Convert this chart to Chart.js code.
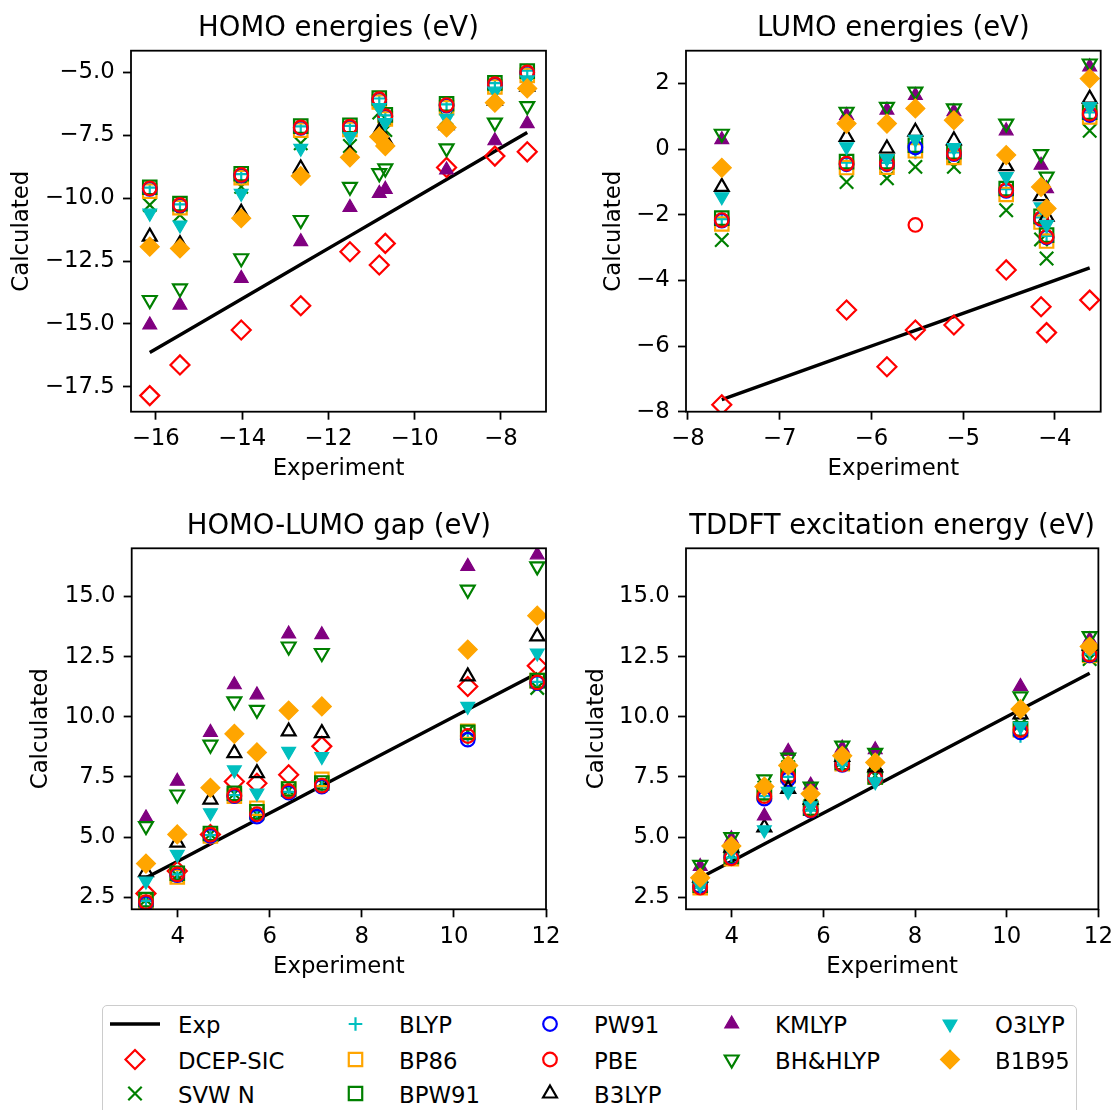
<!DOCTYPE html>
<html>
<head>
<meta charset="utf-8">
<script src="https://cdn.jsdelivr.net/npm/chart.js@4.4.1/dist/chart.umd.min.js"></script>
<style>
  body { margin: 0; width: 1119px; height: 1110px; overflow: hidden; background: #fff; position: relative; font-family: "DejaVu Sans", sans-serif; }
  canvas { position: absolute; }
  #legend { position: absolute; left: 102px; top: 1005px; width: 975px; height: 140px; border: 1.8px solid #cccccc; border-radius: 5px; box-sizing: border-box; background: #fff; }
  .lt { position: absolute; font-size: 22.8px; line-height: 28px; white-space: nowrap; color: #000; }
</style>
</head>
<body>
<canvas id="homo" width="575" height="500" style="left:0px;top:0px"></canvas>
<canvas id="lumo" width="544" height="500" style="left:575px;top:0px"></canvas>
<canvas id="gap" width="575" height="500" style="left:0px;top:498px"></canvas>
<canvas id="tddft" width="544" height="500" style="left:575px;top:498px"></canvas>
<div id="legend"></div>
<canvas id="legendMarks" width="1119" height="110" style="left:0px;top:1000px"></canvas>
<script>
// method names, in legend order
const methods = ['DCEP-SIC', 'SVW N', 'BLYP', 'BP86', 'BPW91', 'PW91', 'PBE', 'B3LYP', 'KMLYP', 'BH&HLYP', 'O3LYP', 'B1B95'];

// HOMO energies (eV)
const homoExp    = [-16.14, -15.44, -14.02, -12.64, -11.50, -10.82, -10.68, -9.26, -8.14, -7.39];
const homoDCEP   = [-17.85, -16.63, -15.24, -14.28, -12.13, -12.66, -11.80, -8.78, -8.33, -8.16];
const homoSVWN   = [-10.27, -10.67, -9.55, -7.82, -7.93, -6.60, -7.29, -6.83, -5.90, -5.44];
const homoBLYP   = [-9.58, -10.25, -9.05, -7.15, -7.13, -6.04, -6.71, -6.27, -5.43, -4.93];
const homoBP86   = [-9.72, -10.38, -9.19, -7.30, -7.27, -6.18, -6.85, -6.41, -5.58, -5.12];
const homoBPW91  = [-9.57, -10.22, -9.03, -7.14, -7.11, -6.02, -6.69, -6.25, -5.42, -4.95];
const homoPW91   = [-9.63, -10.29, -9.10, -7.21, -7.18, -6.09, -6.76, -6.32, -5.49, -5.02];
const homoPBE    = [-9.61, -10.27, -9.08, -7.19, -7.16, -6.07, -6.74, -6.30, -5.47, -5.00];
const homoB3LYP  = [-11.53, -11.83, -10.58, -8.82, -8.22, -7.36, -7.69, -7.10, -6.13, -5.57];
const homoKMLYP  = [-15.04, -14.25, -13.19, -11.73, -10.37, -9.81, -9.65, -8.88, -7.72, -7.04];
const homoBHHLYP = [-14.05, -13.59, -12.39, -10.87, -9.55, -9.01, -8.82, -8.02, -7.00, -6.34];
const homoO3LYP  = [-10.60, -11.07, -9.81, -8.02, -7.55, -6.40, -7.00, -6.83, -5.75, -5.30];
const homoB1B95  = [-11.93, -12.00, -10.80, -9.12, -8.38, -7.56, -7.93, -7.19, -6.21, -5.64];

// LUMO energies (eV)
const lumoExp    = [-7.63, -6.27, -5.83, -5.52, -5.10, -4.53, -4.15, -4.09, -3.62];
const lumoDCEP   = [-7.79, -4.90, -6.63, -5.51, -5.36, -3.68, -4.80, -5.59, -4.60];
const lumoSVWN   = [-2.77, -1.00, -0.89, -0.54, -0.54, -1.86, -2.75, -3.33, 0.56];
const lumoBLYP   = [-2.13, -0.41, -0.42, -0.10, -0.10, -1.22, -2.08, -2.64, 1.12];
const lumoBP86   = [-2.28, -0.56, -0.55, -0.05, -0.25, -1.38, -2.22, -2.80, 0.98];
const lumoBPW91  = [-2.10, -0.38, -0.38, 0.12, -0.08, -1.20, -2.05, -2.62, 1.13];
const lumoPW91   = [-2.18, -0.46, -0.46, 0.05, -0.15, -1.27, -2.13, -2.69, 1.04];
const lumoPBE    = [-2.16, -0.44, -0.44, -2.31, -0.13, -1.25, -2.11, -2.67, 1.08];
const lumoB3LYP  = [-1.15, 0.37, 0.02, 0.53, 0.27, -0.52, -1.43, -2.06, 1.54];
const lumoKMLYP  = [0.29, 1.03, 1.19, 1.64, 1.14, 0.56, -0.49, -1.20, 2.51];
const lumoBHHLYP = [0.47, 1.14, 1.29, 1.75, 1.24, 0.78, -0.15, -0.84, 2.61];
const lumoO3LYP  = [-1.45, 0.07, -0.29, 0.30, 0.05, -0.84, -1.76, -2.30, 1.30];
const lumoB1B95  = [-0.57, 0.78, 0.78, 1.24, 0.88, -0.18, -1.15, -1.81, 2.15];

// HOMO-LUMO gap (eV)
const gapExp    = [3.31, 3.99, 4.71, 5.23, 5.72, 6.41, 7.13, 10.30, 11.81];
const gapDCEP   = [2.66, 3.59, 5.11, 7.31, 7.24, 7.59, 8.77, 11.26, 12.12];
const gapSVWN   = [2.40, 3.40, 5.12, 6.80, 5.95, 6.95, 7.25, 9.40, 11.20];
const gapBLYP   = [2.35, 3.45, 5.08, 6.75, 5.92, 6.88, 7.10, 9.10, 11.45];
const gapBP86   = [2.28, 3.35, 5.05, 6.70, 6.20, 7.00, 7.40, 9.40, 11.50];
const gapBPW91  = [2.40, 3.50, 5.15, 6.82, 6.05, 7.00, 7.25, 9.35, 11.50];
const gapPW91   = [2.25, 3.42, 5.05, 6.70, 5.85, 6.85, 7.10, 9.05, 11.40];
const gapPBE    = [2.30, 3.45, 5.10, 6.73, 5.95, 6.90, 7.14, 9.20, 11.43];
const gapB3LYP  = [3.54, 4.77, 6.56, 8.49, 7.66, 9.39, 9.32, 11.68, 13.34];
const gapKMLYP  = [5.80, 7.32, 9.35, 11.33, 10.91, 13.44, 13.41, 16.25, 16.73];
const gapBHHLYP = [5.46, 6.77, 8.84, 10.64, 10.29, 12.92, 12.65, 15.28, 16.25];
const gapO3LYP  = [3.17, 4.28, 6.01, 7.79, 6.83, 8.56, 8.35, 10.43, 12.65];
const gapB1B95  = [3.90, 5.11, 7.05, 9.29, 8.52, 10.26, 10.43, 12.79, 14.20];

// TDDFT excitation energy (eV), no DCEP-SIC values
const tdExp    = [3.31, 3.99, 4.71, 5.23, 5.72, 6.41, 7.13, 10.30, 11.81];
const tdSVWN   = [3.10, 4.30, 7.05, 7.90, 6.30, 8.15, 7.55, 9.69, 12.40];
const tdBLYP   = [2.90, 4.15, 6.70, 7.50, 6.10, 8.00, 7.40, 9.20, 12.60];
const tdBP86   = [2.90, 4.10, 6.80, 7.55, 6.20, 8.05, 7.50, 9.45, 12.55];
const tdBPW91  = [3.00, 4.20, 6.85, 7.60, 6.20, 8.10, 7.50, 9.50, 12.60];
const tdPW91   = [2.95, 4.15, 6.60, 7.40, 6.10, 8.00, 7.45, 9.35, 12.55];
const tdPBE    = [2.90, 4.12, 6.70, 7.52, 6.12, 8.02, 7.45, 9.45, 12.58];
const tdB3LYP  = [3.31, 4.56, 5.40, 7.00, 6.56, 8.33, 7.90, 10.10, 12.95];
const tdKMLYP  = [3.78, 4.93, 5.88, 8.56, 7.16, 8.70, 8.63, 11.26, 13.20];
const tdBHHLYP = [3.85, 5.00, 7.40, 8.30, 7.10, 8.80, 8.50, 10.85, 13.35];
const tdO3LYP  = [3.00, 4.40, 5.30, 6.90, 6.30, 8.10, 7.30, 9.60, 12.80];
const tdB1B95  = [3.31, 4.63, 7.10, 7.98, 6.80, 8.38, 8.10, 10.32, 12.92];

// tick labels
const homoXTicks = [-16, -14, -12, -10, -8];
const homoYTicks = [-17.5, -15, -12.5, -10, -7.5, -5];
const lumoXTicks = [-8, -7, -6, -5, -4];
const lumoYTicks = [-8, -6, -4, -2, 0, 2];
const lowXTicks = [4, 6, 8, 10, 12];
const lowYTicks = [2.5, 5, 7.5, 10, 12.5, 15];

// legend columns (filled top to bottom, like matplotlib ncol=5)
const legendColumns = [
    ['Exp', 'DCEP-SIC', 'SVW N'],
    ['BLYP', 'BP86', 'BPW91'],
    ['PW91', 'PBE', 'B3LYP'],
    ['KMLYP', 'BH&HLYP'],
    ['O3LYP', 'B1B95']
];

// marker look for each method (matplotlib-ish)
const markStyle = {
    'DCEP-SIC': { pointStyle: 'rectRot', color: '#ff0000', filled: false, r: 9.5, rot: 0 },
    'SVW N':    { pointStyle: 'crossRot', color: '#008000', filled: false, r: 9.5, rot: 0 },
    'BLYP':     { pointStyle: 'cross', color: '#00bfbf', filled: false, r: 6.8, rot: 0 },
    'BP86':     { pointStyle: 'rect', color: '#ffa500', filled: false, r: 9.5, rot: 0 },
    'BPW91':    { pointStyle: 'rect', color: '#008000', filled: false, r: 9.5, rot: 0 },
    'PW91':     { pointStyle: 'circle', color: '#0000ff', filled: false, r: 6.8, rot: 0 },
    'PBE':      { pointStyle: 'circle', color: '#ff0000', filled: false, r: 6.8, rot: 0 },
    'B3LYP':    { pointStyle: 'triangle', color: '#000000', filled: false, r: 8, rot: 0 },
    'KMLYP':    { pointStyle: 'triangle', color: '#800080', filled: true, r: 8, rot: 0 },
    'BH&HLYP':  { pointStyle: 'triangle', color: '#008000', filled: false, r: 8, rot: 180 },
    'O3LYP':    { pointStyle: 'triangle', color: '#00bfbf', filled: true, r: 8, rot: 180 },
    'B1B95':    { pointStyle: 'rectRot', color: '#ffa500', filled: true, r: 9.5, rot: 0 }
};

const tickSize = 22.8;
const labelSize = 22.8;
const titleSize = 27.5;

Chart.defaults.font.family = '"DejaVu Sans", sans-serif';
Chart.defaults.color = '#000';

const framePlugin = {
    id: 'frame',
    afterDatasetsDraw(chart) {
        const a = chart.chartArea;
        const c = chart.ctx;
        c.save();
        c.strokeStyle = '#000';
        c.lineWidth = 1.8;
        c.strokeRect(a.left, a.top, a.right - a.left, a.bottom - a.top);
        c.restore();
    }
};

function minusFmt(v, d) {
    return (v < 0 ? '\u2212' : '') + Math.abs(v).toFixed(d);
}

function buildDatasets(xs, calc) {
    const sets = [{
        label: 'Exp',
        data: xs.map(v => ({ x: v, y: v })),
        showLine: true,
        borderColor: '#000',
        borderWidth: 3.4,
        pointRadius: 0,
        order: 100
    }];
    methods.forEach((m, i) => {
        if (!calc[m]) return;
        const s = markStyle[m];
        sets.push({
            label: m,
            data: xs.map((v, k) => ({ x: v, y: calc[m][k] })),
            pointStyle: s.pointStyle,
            rotation: s.rot,
            pointRadius: s.r,
            pointHoverRadius: s.r,
            borderColor: s.color,
            backgroundColor: s.filled ? s.color : 'rgba(0,0,0,0)',
            borderWidth: s.filled ? 1.2 : 2.2,
            showLine: false,
            clip: 0,
            order: 99 - i
        });
    });
    return sets;
}

function makePanel(id, title, xs, calc, geo) {
    const cv = document.getElementById(id);
    const cw = cv.width, ch = cv.height;
    const yAxisW = geo.L - geo.cl;
    const xAxisH = geo.ct + ch - geo.B;
    const padRight = geo.cl + cw - geo.R;
    const titleBlock = geo.T - geo.ct;
    const titleLh = titleSize * 1.2;
    const labelHalf = labelSize * 0.6;
    const tickHalf = tickSize * 0.6;
    return new Chart(cv, {
        type: 'scatter',
        data: { datasets: buildDatasets(xs, calc) },
        options: {
            responsive: false,
            animation: false,
            layout: { padding: { left: 0, top: 0, bottom: 0, right: padRight } },
            plugins: {
                legend: { display: false },
                tooltip: { enabled: false },
                title: {
                    display: true,
                    text: title,
                    fullSize: false,
                    color: '#000',
                    font: { size: titleSize, weight: 'normal' },
                    padding: { top: 12.5, bottom: titleBlock - 12.5 - titleLh }
                }
            },
            scales: {
                x: {
                    type: 'linear',
                    min: geo.xmin,
                    max: geo.xmax,
                    border: { display: false },
                    grid: { drawOnChartArea: false, drawTicks: true, tickLength: 8, tickWidth: 1.8, tickColor: '#000' },
                    afterBuildTicks: ax => { ax.ticks = geo.xTicks.map(v => ({ value: v })); },
                    afterFit: ax => { ax.height = xAxisH; },
                    ticks: {
                        color: '#000', font: { size: tickSize }, padding: 27.8 - 8 - tickHalf, maxRotation: 0, autoSkip: false,
                        callback: v => minusFmt(v, 0)
                    },
                    title: {
                        display: true, text: 'Experiment', color: '#000', font: { size: labelSize },
                        padding: { top: 0, bottom: geo.ct + ch - geo.xTitleY - labelHalf }
                    }
                },
                y: {
                    type: 'linear',
                    min: geo.ymin,
                    max: geo.ymax,
                    border: { display: false },
                    grid: { drawOnChartArea: false, drawTicks: true, tickLength: 8, tickWidth: 1.8, tickColor: '#000' },
                    afterBuildTicks: ax => { ax.ticks = geo.yTicks.map(v => ({ value: v })); },
                    afterFit: ax => { ax.width = yAxisW; },
                    ticks: {
                        color: '#000', font: { size: tickSize }, padding: 8.3, autoSkip: false,
                        callback: v => minusFmt(v, geo.yDec)
                    },
                    title: {
                        display: true, text: 'Calculated', color: '#000', font: { size: labelSize },
                        padding: { top: geo.yTitleX - geo.cl - labelHalf, bottom: 0 }
                    }
                }
            }
        },
        plugins: [framePlugin]
    });
}

makePanel('homo', 'HOMO energies (eV)', homoExp, {
    'DCEP-SIC': homoDCEP, 'SVW N': homoSVWN, 'BLYP': homoBLYP, 'BP86': homoBP86, 'BPW91': homoBPW91,
    'PW91': homoPW91, 'PBE': homoPBE, 'B3LYP': homoB3LYP, 'KMLYP': homoKMLYP, 'BH&HLYP': homoBHHLYP,
    'O3LYP': homoO3LYP, 'B1B95': homoB1B95
}, { cl: 0, ct: 0, L: 131, T: 50.7, R: 546, B: 411.7, xTitleY: 469.5, yTitleX: 22,
     xmin: -16.575, xmax: -6.955, ymin: -18.49, ymax: -4.14, xTicks: homoXTicks, yTicks: homoYTicks, yDec: 1 });

makePanel('lumo', 'LUMO energies (eV)', lumoExp, {
    'DCEP-SIC': lumoDCEP, 'SVW N': lumoSVWN, 'BLYP': lumoBLYP, 'BP86': lumoBP86, 'BPW91': lumoBPW91,
    'PW91': lumoPW91, 'PBE': lumoPBE, 'B3LYP': lumoB3LYP, 'KMLYP': lumoKMLYP, 'BH&HLYP': lumoBHHLYP,
    'O3LYP': lumoO3LYP, 'B1B95': lumoB1B95
}, { cl: 575, ct: 0, L: 686, T: 50.7, R: 1100.7, B: 411.7, xTitleY: 469.5, yTitleX: 614,
     xmin: -8.02, xmax: -3.5, ymin: -8, ymax: 3, xTicks: lumoXTicks, yTicks: lumoYTicks, yDec: 0 });

makePanel('gap', 'HOMO-LUMO gap (eV)', gapExp, {
    'DCEP-SIC': gapDCEP, 'SVW N': gapSVWN, 'BLYP': gapBLYP, 'BP86': gapBP86, 'BPW91': gapBPW91,
    'PW91': gapPW91, 'PBE': gapPBE, 'B3LYP': gapB3LYP, 'KMLYP': gapKMLYP, 'BH&HLYP': gapBHHLYP,
    'O3LYP': gapO3LYP, 'B1B95': gapB1B95
}, { cl: 0, ct: 498, L: 131.7, T: 548.3, R: 546, B: 909.3, xTitleY: 967.1, yTitleX: 41,
     xmin: 3, xmax: 12, ymin: 2, ymax: 17, xTicks: lowXTicks, yTicks: lowYTicks, yDec: 1 });

makePanel('tddft', 'TDDFT excitation energy (eV)', tdExp, {
    'SVW N': tdSVWN, 'BLYP': tdBLYP, 'BP86': tdBP86, 'BPW91': tdBPW91,
    'PW91': tdPW91, 'PBE': tdPBE, 'B3LYP': tdB3LYP, 'KMLYP': tdKMLYP, 'BH&HLYP': tdBHHLYP,
    'O3LYP': tdO3LYP, 'B1B95': tdB1B95
}, { cl: 575, ct: 498, L: 686, T: 548.3, R: 1100.7, B: 909.3, xTitleY: 967.1, yTitleX: 597,
     xmin: 3, xmax: 12, ymin: 2, ymax: 17, xTicks: lowXTicks, yTicks: lowYTicks, yDec: 1 });

// legend
const legendColX = [[135, 177], [355.5, 398], [550, 593], [731.7, 774], [950, 994]];
const legendRowY = [1024, 1059.5, 1093.5];
const lctx = document.getElementById('legendMarks').getContext('2d');
const legendBox = document.getElementById('legend');

legendColumns.forEach((names, c) => {
    names.forEach((name, r) => {
        const col = legendColX[c];
        const yc = legendRowY[r];
        const span = document.createElement('div');
        span.className = 'lt';
        span.textContent = name;
        span.style.left = (col[1] - 102) + 'px';
        span.style.top = (yc - 14 - 1005) + 'px';
        legendBox.appendChild(span);

        const y = yc - 1000;
        if (name === 'Exp') {
            lctx.strokeStyle = '#000';
            lctx.lineWidth = 3.4;
            lctx.beginPath();
            lctx.moveTo(110, y);
            lctx.lineTo(160, y);
            lctx.stroke();
            return;
        }
        const s = markStyle[name];
        lctx.save();
        lctx.strokeStyle = s.color;
        lctx.fillStyle = s.filled ? s.color : 'rgba(0,0,0,0)';
        lctx.lineWidth = s.filled ? 1.2 : 2.2;
        Chart.helpers.drawPoint(lctx, { pointStyle: s.pointStyle, rotation: s.rot, radius: s.r, borderWidth: lctx.lineWidth }, col[0], y);
        lctx.restore();
    });
});
</script>
</body>
</html>
